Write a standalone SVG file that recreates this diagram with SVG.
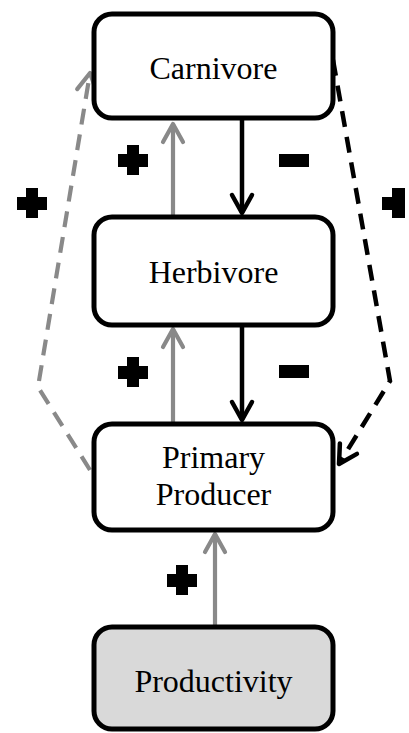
<svg xmlns="http://www.w3.org/2000/svg" width="409" height="733" viewBox="0 0 409 733">
  <style>
    .box { fill: #ffffff; stroke: #000000; stroke-width: 5; }
    .box.driver { fill: #d9d9d9; }
    .label { font-family: "Liberation Serif", "Times New Roman", serif; font-size: 32px; fill: #000000; text-anchor: middle; }
    .pos { fill: none; stroke: #898989; stroke-width: 4.2; }
    .neg { fill: none; stroke: #000000; stroke-width: 4.5; }
    .dash { stroke-dasharray: 16 10; }
    .sign { fill: #000000; }
  </style>
  <defs>
    <marker id="head-pos" markerUnits="userSpaceOnUse" viewBox="-22 -14 26 28" refX="0" refY="0" markerWidth="26" markerHeight="28" orient="auto" overflow="visible">
      <path d="M -18 -10 L 0 0 L -18 10" fill="none" stroke="#898989" stroke-width="4.2" stroke-linecap="round" stroke-linejoin="round"/>
    </marker>
    <marker id="head-neg" markerUnits="userSpaceOnUse" viewBox="-22 -14 26 28" refX="0" refY="0" markerWidth="26" markerHeight="28" orient="auto" overflow="visible">
      <path d="M -18 -10 L 0 0 L -18 10" fill="none" stroke="#000000" stroke-width="4.5" stroke-linecap="round" stroke-linejoin="round"/>
    </marker>
  </defs>

  <g id="connectors">
    <!-- indirect effects (dashed) -->
    <path class="pos dash" d="M 90 470 L 38 387 L 90 73" marker-end="url(#head-pos)"/>
    <path class="neg dash" d="M 333 60 L 390 381 L 339 464" marker-end="url(#head-neg)"/>
    <!-- direct effects -->
    <line class="pos" x1="173" y1="217" x2="173" y2="124" marker-end="url(#head-pos)"/>
    <line class="neg" x1="242" y1="118" x2="242" y2="213" marker-end="url(#head-neg)"/>
    <line class="pos" x1="173" y1="424" x2="173" y2="329" marker-end="url(#head-pos)"/>
    <line class="neg" x1="242" y1="325" x2="242" y2="420" marker-end="url(#head-neg)"/>
    <line class="pos" x1="215" y1="627" x2="215" y2="534" marker-end="url(#head-pos)"/>
  </g>

  <g id="signs">
    <path class="sign" d="M 26 188 h 12 v 9 h 9 v 13 h -9 v 8 h -12 v -8 h -9 v -13 h 9 z"/>
    <path class="sign" d="M 392 188 h 13 v 30 h -13 v -8 h -10 v -13 h 10 z"/>
    <path class="sign" d="M 127 145 h 12 v 9 h 9 v 13 h -9 v 8 h -12 v -8 h -9 v -13 h 9 z"/>
    <rect class="sign" x="279" y="154" width="30" height="13"/>
    <path class="sign" d="M 127 357 h 12 v 9 h 9 v 13 h -9 v 8 h -12 v -8 h -9 v -13 h 9 z"/>
    <rect class="sign" x="279" y="365" width="30" height="13"/>
    <path class="sign" d="M 176 565 h 12 v 9 h 9 v 13 h -9 v 8 h -12 v -8 h -9 v -13 h 9 z"/>
  </g>

  <g id="carnivore">
    <rect class="box" x="94" y="14" width="239" height="104" rx="18"/>
    <text class="label" x="213.5" y="79">Carnivore</text>
  </g>
  <g id="herbivore">
    <rect class="box" x="94" y="217" width="239" height="108" rx="18"/>
    <text class="label" x="213.5" y="283">Herbivore</text>
  </g>
  <g id="primary-producer">
    <rect class="box" x="94" y="424" width="239" height="106" rx="18"/>
    <text class="label" x="213.5" y="468">Primary</text>
    <text class="label" x="213.5" y="505">Producer</text>
  </g>
  <g id="productivity">
    <rect class="box driver" x="94" y="627" width="239" height="102" rx="18"/>
    <text class="label" x="213.5" y="692">Productivity</text>
  </g>
</svg>
